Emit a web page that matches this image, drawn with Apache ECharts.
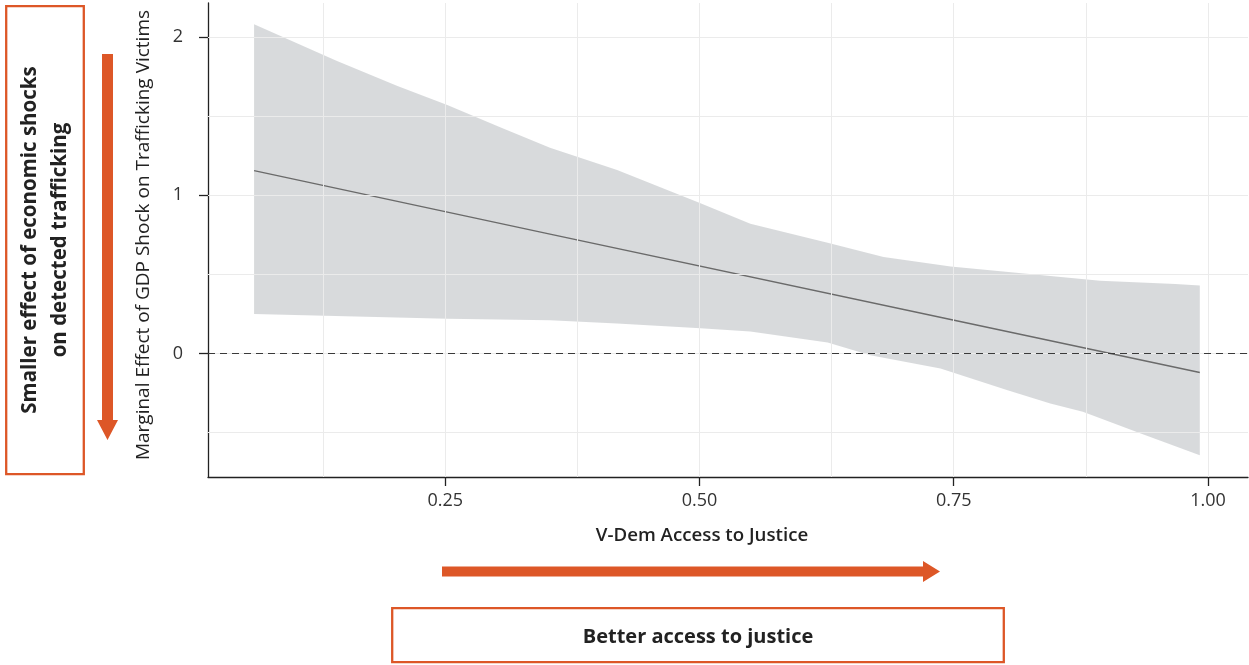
<!DOCTYPE html>
<html>
<head>
<meta charset="utf-8">
<script src="https://cdn.jsdelivr.net/npm/echarts@6/dist/echarts.min.js"></script>
<style>html,body{margin:0;padding:0;background:#fff;}#chart{width:1249px;height:665px;}</style>
</head>
<body>
<div id="chart"></div>
<script>
// ---- data ----
const upperX = [0.062, 0.143, 0.203, 0.252, 0.304, 0.353, 0.419, 0.501, 0.550, 0.626, 0.681, 0.747, 0.796, 0.894, 0.968, 0.992];
const upperY = [2.08, 1.85, 1.69, 1.57, 1.43, 1.30, 1.16, 0.95, 0.82, 0.70, 0.61, 0.55, 0.52, 0.46, 0.44, 0.43];
const lowerX = [0.062, 0.252, 0.353, 0.419, 0.501, 0.550, 0.626, 0.668, 0.737, 0.803, 0.845, 0.877, 0.934, 0.992];
const lowerY = [0.25, 0.22, 0.21, 0.19, 0.16, 0.14, 0.07, -0.01, -0.094, -0.232, -0.315, -0.368, -0.505, -0.643];
const lineX = [0.062, 0.353, 0.747, 0.992];
const lineY = [1.156, 0.755, 0.215, -0.12];
const xTicks = [0.25, 0.50, 0.75, 1.00];
const xMinor = [0.125, 0.375, 0.625, 0.875];
const yTicks = [0, 1, 2];
const yMinor = [-0.5, 0.5, 1.5];
const xTitle = 'V-Dem Access to Justice';
const yTitle = 'Marginal Effect of GDP Shock on Trafficking Victims';
const sideNote = 'Smaller effect of economic shocks\non detected trafficking';
const bottomNote = 'Better access to justice';

const ORANGE = '#DD5727';
const FONT = 'Open Sans';

const chart = echarts.init(document.getElementById('chart'));

const gridLines = [].concat(
  xTicks.concat(xMinor).map(v => ({ xAxis: v })),
  yTicks.concat(yMinor).map(v => ({ yAxis: v }))
);

chart.setOption({
  animation: false,
  backgroundColor: '#fff',
  textStyle: { fontFamily: FONT },
  grid: { left: 208, right: 1, top: 3, bottom: 188 },
  xAxis: {
    type: 'value', min: 0.0167, max: 1.0394,
    axisLine: { show: true, onZero: false, lineStyle: { color: '#222', width: 1.3 } },
    axisTick: { show: true, customValues: xTicks, length: 9, lineStyle: { color: '#222', width: 1.3 } },
    axisLabel: { customValues: xTicks, formatter: v => v.toFixed(2), color: '#333', fontSize: 18, margin: 15, fontFamily: FONT },
    splitLine: { show: false }
  },
  yAxis: {
    type: 'value', min: -0.78, max: 2.215,
    axisLine: { show: true, onZero: false, lineStyle: { color: '#222', width: 1.3 } },
    axisTick: { show: true, customValues: yTicks, length: 9, lineStyle: { color: '#222', width: 1.3 } },
    axisLabel: { customValues: yTicks, formatter: v => String(v), color: '#333', fontSize: 18, margin: 25, fontFamily: FONT },
    splitLine: { show: false }
  },
  series: [
    {
      type: 'line', data: [], z: 0, silent: true,
      markLine: {
        silent: true, symbol: 'none', animation: false,
        label: { show: false },
        lineStyle: { color: '#ebebeb', width: 1, type: 'solid' },
        data: gridLines
      }
    },
    {
      type: 'custom', z: 1, silent: true,
      data: [[0.5, 0.5]],
      renderItem: function (params, api) {
        const pts = [];
        for (let i = 0; i < upperX.length; i++) pts.push(api.coord([upperX[i], upperY[i]]));
        for (let i = lowerX.length - 1; i >= 0; i--) pts.push(api.coord([lowerX[i], lowerY[i]]));
        return { type: 'polygon', shape: { points: pts }, style: { fill: 'rgba(198,200,204,0.68)' } };
      }
    },
    {
      type: 'line', data: [], z: 2, silent: true,
      markLine: {
        silent: true, symbol: 'none', animation: false,
        label: { show: false },
        lineStyle: { color: '#3a3a3a', width: 1.2, type: [7, 5] },
        data: [{ yAxis: 0 }]
      }
    },
    {
      type: 'line', z: 3, silent: true, symbol: 'none',
      data: lineX.map((x, i) => [x, lineY[i]]),
      lineStyle: { color: '#6a6a6a', width: 1.4 }
    }
  ],
  graphic: [
    { type: 'rect', shape: { x: 6.2, y: 6.2, width: 77.6, height: 468 }, style: { fill: 'none', stroke: ORANGE, lineWidth: 2.3 } },
    { type: 'text', x: 45, y: 240, rotation: Math.PI / 2,
      style: { text: sideNote, fontFamily: FONT, fontWeight: 'bold', fontSize: 20.5, lineHeight: 30, fill: '#222', align: 'center', verticalAlign: 'middle' } },
    { type: 'polygon', shape: { points: [[102, 54], [113, 54], [113, 420], [118, 420], [107.5, 440], [97, 420], [102, 420]] }, style: { fill: ORANGE } },
    { type: 'text', x: 144, y: 235, rotation: Math.PI / 2,
      style: { text: yTitle, fontFamily: FONT, fontSize: 19, fill: '#222', align: 'center', verticalAlign: 'middle' } },
    { type: 'text', x: 702, y: 536, 
      style: { text: xTitle, fontFamily: FONT, fontWeight: 600, fontSize: 18.7, fill: '#222', align: 'center', verticalAlign: 'middle' } },
    { type: 'polygon', shape: { points: [[442, 566.5], [923, 566.5], [923, 561], [940, 571.5], [923, 582], [923, 576.5], [442, 576.5]] }, style: { fill: ORANGE } },
    { type: 'rect', shape: { x: 392.2, y: 608.2, width: 611.6, height: 54 }, style: { fill: 'none', stroke: ORANGE, lineWidth: 2.3 } },
    { type: 'text', x: 698, y: 637,
      style: { text: bottomNote, fontFamily: FONT, fontWeight: 'bold', fontSize: 20, fill: '#222', align: 'center', verticalAlign: 'middle' } }
  ]
});
</script>
</body>
</html>
